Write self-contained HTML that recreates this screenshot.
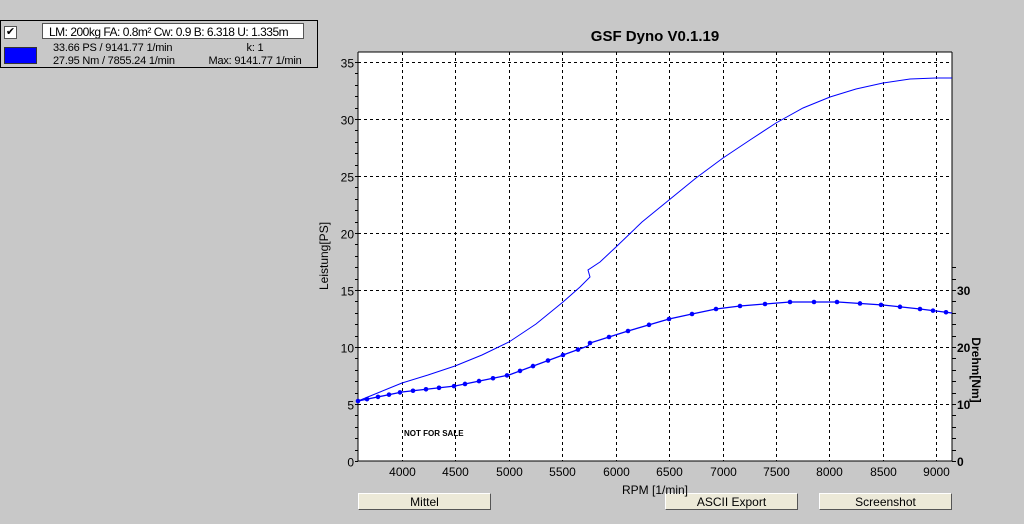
<!DOCTYPE html>
<html><head><style>
body{margin:0;width:1024px;height:524px;background:#c8c8c8;font-family:"Liberation Sans",sans-serif;overflow:hidden;position:relative}
.abs{position:absolute}
.btn{position:absolute;top:493px;height:17px;background:#ece9d8;border:1px solid #fff;border-right-color:#555;border-bottom-color:#555;font-size:12px;text-align:center;line-height:17px;box-sizing:border-box}
</style></head><body>
<div class="abs" style="left:0;top:20px;width:318px;height:48px;border:1px solid #000;background:#c8c8c8;box-sizing:border-box"></div>
<div class="abs" style="left:4px;top:26px;width:11px;height:11px;background:#fff;border:1px solid #555;font-size:11px;line-height:11px;text-align:center">✔</div>
<div class="abs" style="left:42px;top:23px;width:262px;height:16px;background:#fff;border:1px solid #555;box-sizing:border-box;font-size:12px;line-height:16px;padding-left:6px;white-space:nowrap;overflow:hidden;letter-spacing:-0.5px">LM: 200kg  FA: 0.8m²  Cw: 0.9  B: 6.318  U: 1.335m</div>
<div class="abs" style="left:4px;top:47px;width:31px;height:15px;background:#0000ff;border:1px solid #333"></div>
<div class="abs" style="left:53px;top:42px;font-size:11px;line-height:13px;white-space:nowrap;letter-spacing:-0.2px">33.66 PS / 9141.77 1/min<br>27.95 Nm / 7855.24 1/min</div>
<div class="abs" style="left:207px;top:42px;font-size:11px;line-height:13px;white-space:nowrap;text-align:center;width:96px;letter-spacing:-0.2px">k: 1<br>Max: 9141.77 1/min</div>
<div class="btn" style="left:358px;width:133px">Mittel</div>
<div class="btn" style="left:665px;width:133px">ASCII Export</div>
<div class="btn" style="left:819px;width:133px">Screenshot</div>
<svg class="abs" style="left:0;top:0" width="1024" height="524" id="s">
<text x="655" y="41" font-size="15" font-weight="bold" text-anchor="middle" font-family="Liberation Sans">GSF Dyno V0.1.19</text>
<rect x="358" y="52" width="594" height="409" fill="#fff"/>
<g id="grid" stroke="#000" stroke-dasharray="3,3" stroke-width="1"></g>
<g id="tk" stroke="#000"></g>
<g id="lab" font-size="12" font-family="Liberation Sans"></g>
<line x1="358" y1="52" x2="358" y2="461" stroke="#000"/>
<line x1="358" y1="461" x2="952" y2="461" stroke="#000"/>
<line x1="952" y1="52" x2="952" y2="461" stroke="#000"/>
<line x1="358" y1="52" x2="952" y2="52" stroke="#000"/>
<text x="655" y="494" font-size="12" text-anchor="middle">RPM [1/min]</text>
<text transform="translate(328,256) rotate(-90)" font-size="12" text-anchor="middle">Leistung[PS]</text>
<text transform="translate(972,370) rotate(90)" font-size="12" font-weight="bold" text-anchor="middle">Drehm[Nm]</text>
<text x="404" y="436" font-size="8" font-weight="bold">NOT FOR SALE</text>
<polyline fill="none" stroke="#0000ff" points="358,401 380,392 402,383 428,375 455,366 482,355 509,342 536,324 563,302 580,287 590,277 588,270 600,262 616,247 642,222 669,200 696,178 723,158 750,140 776,123 803,108 830,97 856,89 883,83 910,79 936,78 952,78"/>
<polyline id="tq" fill="none" stroke="#0000ff" stroke-width="1.3"/>
<g id="mk" fill="#0000ff"></g>
</svg>
<script>
var s="http://www.w3.org/2000/svg";
function el(p,t,a,txt){var e=document.createElementNS(s,t);for(var k in a)e.setAttribute(k,a[k]);if(txt!==undefined)e.textContent=String(txt);document.getElementById(p).appendChild(e);}
var X=function(r){return 402+(r-4000)*0.10684};
for(var r=4000;r<=9000;r+=500){var x=Math.round(X(r))+.5;el('grid','line',{x1:x,y1:52,x2:x,y2:461});el('lab','text',{x:x,y:476,'text-anchor':'middle'},r);}
for(var v=0;v<=35;v+=5){var y=Math.round(461-v*11.4)+.5;if(v>0)el('grid','line',{x1:358,y1:y,x2:952,y2:y});el('lab','text',{x:354,y:y+5,'text-anchor':'end'},v);}
for(var v=0;v<=35;v++){var y=Math.round(461-v*11.4)+.5;el('tk','line',{x1:355,y1:y,x2:358,y2:y});}
for(var v=0;v<=35;v+=2){var y=Math.round(461-v*5.7)+.5;el('tk','line',{x1:952,y1:y,x2:956,y2:y});}
for(var v=0;v<=30;v+=10){el('lab','text',{x:957,y:Math.round(461-v*5.7)+5,'font-weight':'bold'},v);}
var tp=[[358,401],[402,392],[455,386],[509,375],[563,355],[588,346],[590,343],[609,337],[628,331],[669,319],[692,314],[716,309],[740,306],[790,302],[838,302],[883,305],[920,309],[952,313]];
document.getElementById('tq').setAttribute('points',tp.map(function(p){return p.join(',')}).join(' '));
function ty(x){for(var i=1;i<tp.length;i++){if(x<=tp[i][0]){var a=tp[i-1],b=tp[i];return a[1]+(b[1]-a[1])*(x-a[0])/(b[0]-a[0]);}}return 313;}
[358,367,378,389,400,413,426,439,454,465,479,493,507,520,533,548,563,578,590,609,628,649,669,692,716,740,765,790,814,837,860,881,900,920,933,946].forEach(function(x){el('mk','circle',{cx:x,cy:ty(x),r:2.3});});
</script>
</body></html>
